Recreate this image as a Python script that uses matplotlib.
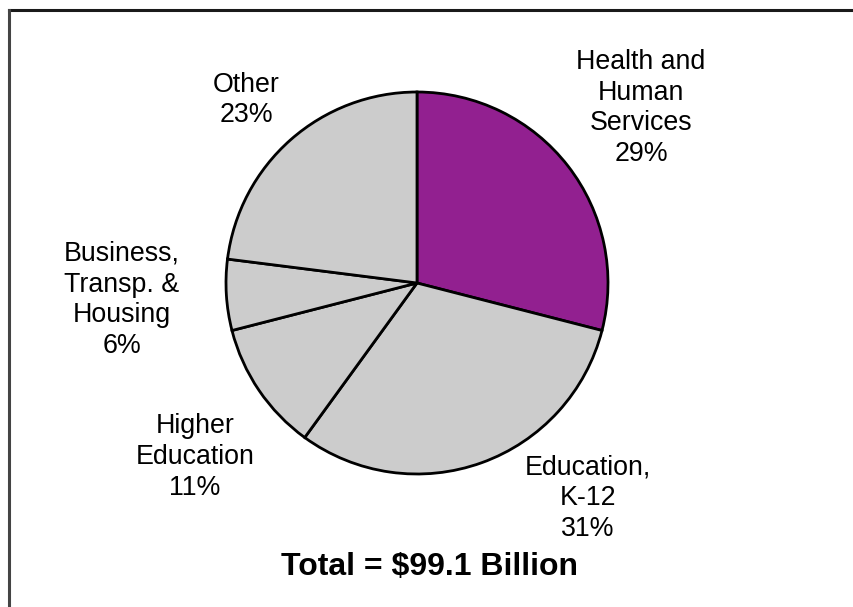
import matplotlib
matplotlib.use('Agg')
from matplotlib import pyplot as plt
from matplotlib.lines import Line2D

# budget shares, in percent, clockwise from 12 o'clock
categories = ['Health and\nHuman\nServices', 'Education,\nK-12', 'Higher\nEducation',
              'Business,\nTransp. &\nHousing', 'Other']
shares = [29, 31, 11, 6, 23]
slice_colors = ['#922090', '#cccccc', '#cccccc', '#cccccc', '#cccccc']
total_label = 'Total = $99.1 Billion'

# label centres in pixel space (y measured from the top)
label_pos = [(641, 108), (588, 498), (195, 457), (122, 300), (246, 100)]

W, H = 854, 607
fig = plt.figure(figsize=(W / 100, H / 100), dpi=100)
ax = fig.add_axes([0, 0, 1, 1])

ax.pie(shares, colors=slice_colors, startangle=90, counterclock=False,
       center=(417, H - 283), radius=191, frame=True,
       wedgeprops=dict(edgecolor='black', linewidth=2.0))
ax.set_xlim(0, W)
ax.set_ylim(0, H)
ax.set_aspect('equal')
ax.axis('off')

for name, pct, (x, y) in zip(categories, shares, label_pos):
    ax.text(x, H - y, f'{name}\n{pct}%', ha='center', va='center',
            fontsize=19.3, family='Liberation Sans', linespacing=1.24)

ax.text(430, H - 567, total_label, ha='center', va='center',
        fontsize=23, fontweight='bold', family='Liberation Sans')

# chart border (top and left edges fall inside the image)
fig.add_artist(Line2D([9 / W, 1], [1 - 10 / H, 1 - 10 / H],
                      transform=fig.transFigure, color='#1a1a1a', lw=2.2))
fig.add_artist(Line2D([9 / W, 9 / W], [0, 1 - 10 / H],
                      transform=fig.transFigure, color='#444444', lw=2.2))

fig.savefig('out.png', dpi=100)
